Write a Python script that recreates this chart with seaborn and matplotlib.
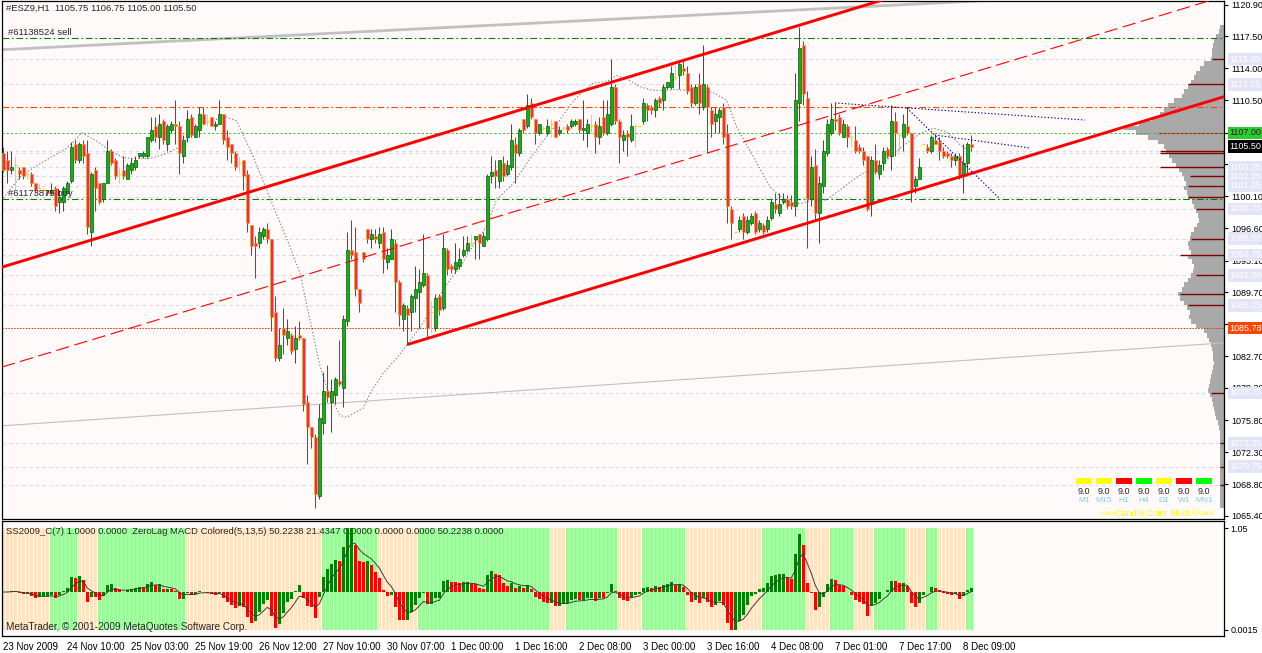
"""
ESZ9 H1 chart: candles, channel lines, order levels, volume profile
and a ZeroLag MACD / SS2009 sub-window.
"""

import matplotlib
matplotlib.use("Agg")

import matplotlib.pyplot as plt
import numpy as np
import pandas as pd
import seaborn as sns
from matplotlib.patches import Rectangle

W, H = 1262, 653

# ---- price data, one value per H1 bar (243 bars) ----
opens = [
    1104.75, 1104.0, 1103.0, 1103.5, 1103.0, 1103.25, 1102.5, 1102.5, 1101.5, 1101.0,
    1100.75, 1100.75, 1100.5, 1101.0, 1099.5, 1099.5, 1100.5, 1101.75, 1105.75, 1104.0,
    1105.75, 1104.75, 1096.25, 1103.0, 1101.5, 1099.75, 1101.5, 1105.0, 1104.0, 1102.5,
    1103.0, 1102.0, 1103.0, 1103.25, 1104.5, 1104.5, 1104.5, 1106.25, 1107.75, 1106.5,
    1108.25, 1105.75, 1107.25, 1108.0, 1107.75, 1104.5, 1106.5, 1108.75, 1106.5, 1107.25,
    1109.0, 1108.25, 1108.75, 1107.75, 1108.0, 1109.0, 1106.5, 1105.75, 1104.75, 1103.75,
    1104.0, 1102.5, 1097.0, 1095.0, 1095.0, 1095.75, 1096.5, 1095.5, 1087.5, 1082.5,
    1085.75, 1084.75, 1085.0, 1083.5, 1085.0, 1084.75, 1077.75, 1075.0, 1074.0, 1067.5,
    1075.5, 1079.0, 1077.75, 1078.5, 1080.0, 1079.25, 1086.5, 1094.25, 1094.0, 1090.0,
    1094.0, 1096.5, 1095.5, 1095.75, 1095.0, 1096.25, 1093.0, 1093.25, 1095.0, 1090.75,
    1086.75, 1088.0, 1087.5, 1089.0, 1089.75, 1090.5, 1091.5, 1087.5, 1085.75, 1089.25,
    1088.0, 1094.25, 1092.5, 1092.25, 1092.5, 1093.75, 1094.25, 1095.0, 1095.5, 1096.0,
    1094.75, 1095.5, 1102.25, 1103.0, 1101.75, 1103.75, 1102.5, 1103.25, 1105.75, 1104.75,
    1108.5, 1107.75, 1110.25, 1108.5, 1107.0, 1107.5, 1107.0, 1108.0, 1108.25, 1107.0,
    1107.5, 1107.75, 1107.75, 1108.0, 1108.5, 1107.25, 1107.0, 1107.75, 1108.0, 1106.5,
    1108.75, 1107.0, 1108.0, 1112.0, 1108.25, 1106.25, 1107.0, 1106.25, 1107.75, 1107.75,
    1108.25, 1110.0, 1109.75, 1109.5, 1110.75, 1110.5, 1112.0, 1112.0, 1113.0, 1113.25,
    1114.0, 1113.5, 1112.0, 1110.25, 1112.25, 1109.75, 1112.0, 1109.5, 1108.25, 1108.75,
    1109.75, 1107.0, 1098.75, 1096.25, 1096.5, 1098.0, 1096.25, 1097.25, 1098.25, 1096.5,
    1097.0, 1096.5, 1097.75, 1099.25, 1098.25, 1099.5, 1099.75, 1099.5, 1099.0, 1110.25,
    1116.5, 1110.75, 1099.75, 1103.5, 1098.25, 1101.25, 1104.75, 1107.0, 1108.5, 1108.75,
    1106.5, 1107.75, 1106.5, 1106.25, 1105.5, 1105.0, 1104.5, 1099.25, 1104.0, 1102.5,
    1103.75, 1105.25, 1104.5, 1108.25, 1106.75, 1106.5, 1107.75, 1107.0, 1101.25, 1102.0,
    1105.75, 1105.5, 1105.0, 1106.25, 1106.0, 1105.0, 1104.75, 1104.5, 1104.0, 1104.5,
    1102.25, 1103.75, 1105.75,
]
highs = [
    1105.5, 1105.0, 1105.0, 1104.5, 1103.25, 1103.25, 1102.75, 1102.75, 1101.5, 1101.5,
    1101.0, 1100.75, 1101.5, 1101.25, 1100.75, 1101.25, 1101.75, 1106.0, 1106.25, 1106.0,
    1106.25, 1106.25, 1102.75, 1103.25, 1101.5, 1101.5, 1106.25, 1105.25, 1104.25, 1103.25,
    1104.5, 1103.75, 1104.25, 1104.5, 1104.75, 1105.0, 1106.5, 1108.75, 1108.75, 1109.0,
    1108.5, 1108.0, 1108.25, 1110.5, 1108.25, 1106.75, 1109.5, 1109.0, 1108.0, 1109.75,
    1109.75, 1109.0, 1108.75, 1108.25, 1110.5, 1109.0, 1107.25, 1105.75, 1105.0, 1104.5,
    1104.0, 1103.0, 1097.0, 1095.75, 1096.75, 1096.75, 1097.25, 1095.5, 1089.25, 1085.75,
    1088.0, 1086.75, 1085.25, 1086.0, 1086.5, 1084.75, 1078.5, 1075.0, 1074.25, 1077.5,
    1081.0, 1081.75, 1080.25, 1080.5, 1084.5, 1087.25, 1096.25, 1097.5, 1096.75, 1090.0,
    1094.0, 1096.5, 1096.5, 1096.5, 1096.75, 1096.75, 1094.5, 1096.5, 1095.5, 1091.0,
    1088.5, 1088.25, 1089.5, 1092.5, 1092.25, 1096.0, 1091.75, 1088.75, 1089.5, 1089.5,
    1096.0, 1094.5, 1092.75, 1095.0, 1094.5, 1095.75, 1095.75, 1096.0, 1095.75, 1096.0,
    1096.25, 1102.5, 1104.5, 1104.0, 1104.0, 1104.5, 1104.0, 1108.0, 1106.5, 1107.5,
    1108.5, 1111.25, 1110.75, 1108.5, 1108.0, 1107.75, 1108.5, 1108.5, 1108.25, 1107.75,
    1107.75, 1108.0, 1108.5, 1108.5, 1108.5, 1110.5, 1108.5, 1109.0, 1108.25, 1108.75,
    1110.5, 1110.5, 1115.0, 1112.25, 1108.5, 1107.25, 1107.25, 1109.0, 1108.0, 1107.75,
    1110.75, 1110.25, 1110.0, 1110.75, 1111.0, 1112.25, 1112.5, 1114.25, 1114.25, 1114.75,
    1114.75, 1114.25, 1112.25, 1112.25, 1113.5, 1116.5, 1112.25, 1109.75, 1109.75, 1109.75,
    1110.25, 1108.0, 1099.0, 1096.25, 1098.0, 1098.25, 1098.0, 1098.25, 1098.5, 1097.5,
    1097.25, 1098.0, 1099.75, 1100.5, 1100.5, 1100.5, 1100.25, 1100.25, 1113.5, 1118.5,
    1117.0, 1111.5, 1104.5, 1105.25, 1102.25, 1106.25, 1108.5, 1110.25, 1110.25, 1109.0,
    1108.5, 1108.0, 1106.75, 1107.75, 1105.75, 1105.5, 1104.5, 1104.5, 1105.75, 1104.0,
    1105.5, 1105.5, 1110.0, 1109.25, 1107.0, 1109.0, 1109.75, 1107.0, 1102.25, 1104.25,
    1105.75, 1105.75, 1106.75, 1106.75, 1106.5, 1105.5, 1105.0, 1104.75, 1104.75, 1104.75,
    1105.75, 1106.0, 1106.75,
]
lows = [
    1102.75, 1101.5, 1102.5, 1100.75, 1102.0, 1102.0, 1102.0, 1101.25, 1100.5, 1100.75,
    1100.5, 1100.25, 1100.25, 1098.5, 1098.25, 1098.5, 1100.5, 1101.5, 1103.75, 1103.75,
    1103.75, 1096.0, 1094.75, 1098.5, 1099.25, 1099.5, 1101.5, 1103.5, 1102.0, 1101.5,
    1102.0, 1102.0, 1102.5, 1103.0, 1104.25, 1104.25, 1104.25, 1106.0, 1106.0, 1105.25,
    1105.75, 1105.0, 1107.0, 1105.75, 1102.5, 1103.75, 1106.0, 1106.5, 1106.5, 1106.5,
    1108.0, 1107.75, 1107.75, 1107.25, 1108.0, 1105.75, 1104.0, 1103.75, 1103.0, 1102.75,
    1100.75, 1096.25, 1093.75, 1091.25, 1094.5, 1095.5, 1095.0, 1085.5, 1082.25, 1082.25,
    1083.0, 1084.0, 1083.0, 1082.0, 1084.5, 1076.75, 1071.0, 1072.75, 1066.25, 1067.25,
    1074.25, 1077.75, 1074.5, 1077.5, 1079.5, 1077.25, 1086.0, 1093.25, 1089.25, 1087.5,
    1093.0, 1095.0, 1094.5, 1095.0, 1094.5, 1091.75, 1092.25, 1093.25, 1087.5, 1086.0,
    1085.5, 1084.0, 1085.5, 1087.5, 1085.75, 1090.25, 1084.75, 1085.25, 1085.5, 1087.25,
    1087.75, 1091.5, 1091.75, 1091.75, 1092.25, 1093.5, 1094.0, 1094.75, 1093.25, 1093.25,
    1094.75, 1095.25, 1101.5, 1101.0, 1101.0, 1101.75, 1102.25, 1103.0, 1101.5, 1104.5,
    1107.0, 1107.5, 1108.5, 1105.75, 1106.75, 1107.25, 1106.75, 1106.5, 1106.5, 1106.75,
    1107.25, 1107.0, 1107.5, 1107.75, 1107.0, 1106.25, 1105.5, 1107.0, 1104.75, 1105.75,
    1106.75, 1106.75, 1107.75, 1108.0, 1103.75, 1105.0, 1104.5, 1106.0, 1105.5, 1107.75,
    1108.0, 1108.25, 1109.0, 1108.75, 1109.75, 1109.5, 1111.75, 1111.75, 1112.75, 1111.75,
    1113.25, 1111.25, 1109.75, 1110.0, 1109.0, 1109.5, 1104.75, 1106.5, 1107.0, 1107.0,
    1105.75, 1097.25, 1095.5, 1096.25, 1096.25, 1095.5, 1096.0, 1097.0, 1096.0, 1096.25,
    1096.0, 1096.25, 1097.5, 1098.25, 1098.0, 1099.25, 1098.75, 1098.75, 1098.0, 1108.25,
    1110.0, 1094.5, 1099.0, 1097.5, 1095.0, 1100.5, 1104.5, 1106.75, 1107.25, 1106.75,
    1106.5, 1105.5, 1105.5, 1104.75, 1104.75, 1103.5, 1098.5, 1098.0, 1102.5, 1102.0,
    1103.0, 1104.25, 1103.0, 1104.5, 1104.75, 1105.0, 1106.75, 1099.5, 1100.5, 1102.0,
    1105.75, 1104.75, 1104.75, 1105.75, 1104.0, 1104.25, 1104.25, 1103.25, 1103.5, 1102.0,
    1100.5, 1102.25, 1105.0,
]
closes = [
    1103.0, 1103.0, 1103.25, 1103.5, 1102.5, 1102.25, 1102.5, 1101.5, 1100.75, 1101.0,
    1100.75, 1100.5, 1100.75, 1099.0, 1100.0, 1101.0, 1101.5, 1105.5, 1104.0, 1105.75,
    1104.5, 1096.75, 1102.5, 1101.0, 1099.5, 1101.5, 1105.0, 1103.75, 1102.25, 1102.5,
    1102.25, 1103.5, 1103.75, 1104.0, 1104.75, 1104.75, 1106.5, 1107.25, 1106.5, 1108.0,
    1106.25, 1107.75, 1108.0, 1107.75, 1104.75, 1106.25, 1108.5, 1106.75, 1107.75, 1109.0,
    1108.0, 1108.25, 1107.75, 1108.0, 1109.0, 1106.25, 1105.5, 1104.75, 1103.25, 1103.75,
    1102.25, 1097.25, 1094.75, 1094.75, 1096.25, 1096.5, 1095.5, 1087.0, 1082.5, 1084.0,
    1085.0, 1085.5, 1083.25, 1084.75, 1084.75, 1077.5, 1075.0, 1074.0, 1067.75, 1076.0,
    1079.0, 1078.25, 1079.0, 1080.25, 1079.75, 1086.75, 1094.25, 1093.75, 1090.0, 1088.5,
    1093.25, 1095.5, 1096.0, 1095.5, 1096.0, 1093.25, 1093.75, 1095.5, 1090.75, 1087.25,
    1088.25, 1087.25, 1089.25, 1090.0, 1090.75, 1091.75, 1085.75, 1087.5, 1089.0, 1087.75,
    1094.5, 1092.25, 1092.25, 1093.0, 1093.25, 1094.25, 1095.0, 1095.0, 1095.75, 1095.0,
    1095.75, 1102.25, 1102.75, 1102.25, 1104.0, 1102.25, 1103.5, 1106.25, 1104.75, 1107.25,
    1107.25, 1110.0, 1108.75, 1107.0, 1108.0, 1107.5, 1107.75, 1108.0, 1106.5, 1107.25,
    1107.5, 1107.25, 1108.25, 1108.25, 1107.25, 1107.5, 1108.0, 1107.75, 1106.5, 1107.75,
    1107.0, 1109.0, 1112.0, 1108.25, 1106.5, 1106.75, 1106.5, 1107.75, 1107.75, 1107.75,
    1110.25, 1109.5, 1109.5, 1110.5, 1110.25, 1112.0, 1112.5, 1113.5, 1113.0, 1114.5,
    1113.75, 1111.5, 1110.25, 1112.0, 1110.25, 1112.25, 1109.75, 1108.0, 1109.0, 1109.5,
    1106.5, 1099.0, 1097.25, 1096.25, 1097.5, 1096.25, 1097.5, 1098.0, 1096.25, 1097.25,
    1096.25, 1097.5, 1099.5, 1098.75, 1099.25, 1099.75, 1099.0, 1099.0, 1110.5, 1116.25,
    1111.25, 1099.75, 1103.25, 1098.25, 1101.5, 1105.0, 1108.0, 1108.5, 1108.25, 1107.0,
    1108.0, 1106.5, 1106.5, 1105.0, 1105.0, 1104.0, 1098.75, 1104.0, 1102.75, 1103.5,
    1105.0, 1104.5, 1108.25, 1107.0, 1106.75, 1108.0, 1107.0, 1100.75, 1102.0, 1103.25,
    1105.75, 1105.0, 1106.5, 1105.75, 1105.0, 1104.5, 1104.5, 1104.0, 1104.5, 1102.25,
    1103.75, 1105.75, 1105.5,
]

date_tick_bars = [0, 16, 32, 48, 64, 80, 96, 112, 128, 144, 160, 176, 192, 208, 224, 240]
date_tick_labels = [
    "23 Nov 2009", "24 Nov 10:00", "25 Nov 03:00", "25 Nov 19:00", "26 Nov 12:00",
    "27 Nov 10:00", "30 Nov 07:00", "1 Dec 00:00", "1 Dec 16:00", "2 Dec 08:00",
    "3 Dec 00:00", "3 Dec 16:00", "4 Dec 08:00", "7 Dec 01:00", "7 Dec 17:00",
    "8 Dec 09:00",
]
price_ticks = [1120.9, 1117.5, 1114.0, 1110.5, 1107.0, 1103.6, 1100.1, 1096.6, 1093.1,
               1089.7, 1086.2, 1082.7, 1079.3, 1075.8, 1072.3, 1068.8, 1065.4]
# these two tick labels sit under the coloured price boxes
covered_ticks = [1107.0, 1086.2]

# slow dotted curve drawn over the candles (bar, price)
curve_bars = [0, 4.2, 7.5, 11.7, 15.8, 17.5, 19.6, 23.3, 26.7, 30, 32.5, 36.7, 40.8,
              44.2, 46.7, 50, 53.3, 55.8, 58.3, 62.5, 67.5, 71.7, 74.2, 76.7, 79.2,
              81.7, 84.2, 85.8, 88.3, 90, 91.7, 95, 98.3, 100.8, 104.2, 107.5, 110.8,
              114.2, 117.5, 120.8, 123.3, 127.5, 131.7, 135.8, 139.2, 141.7, 144.2,
              147.5, 150.8, 153.3, 155.8, 159.2, 162.5, 165.8, 167.5, 170.8, 174.2,
              177.5, 180.8, 183.3, 187.5, 191.7, 195.8, 199.2, 202.5, 205.8, 209.2,
              212.5, 215.8, 219.2, 222.5, 225.8, 229.2, 232.5, 235.8, 239.2, 241.7]
curve_prices = [1099.9, 1102.2, 1103.2, 1104.3, 1105.3, 1106.0, 1107.0, 1106.1, 1105.05,
                1104.3, 1104.2, 1104.2, 1104.75, 1105.5, 1106.6, 1107.8, 1108.45, 1108.7,
                1108.3, 1104.4, 1099.0, 1094.6, 1091.7, 1086.6, 1081.6, 1078.3, 1076.3,
                1076.1, 1076.7, 1077.1, 1078.7, 1080.9, 1082.5, 1083.9, 1085.9, 1088.1,
                1090.5, 1092.45, 1094.8, 1096.8, 1099.7, 1101.5, 1104.2, 1106.6, 1108.4,
                1110.0, 1111.2, 1112.4, 1112.55, 1113.2, 1112.9, 1112.0, 1111.6, 1111.6,
                1111.7, 1111.6, 1111.6, 1111.35, 1110.55, 1107.66, 1104.4, 1101.1, 1099.5,
                1099.3, 1099.7, 1099.7, 1100.8, 1101.9, 1102.8, 1103.3, 1104.76, 1105.85,
                1106.9, 1107.5, 1107.1, 1105.7, 1104.9]

# trend lines: anchor bar, anchor price, slope (price per bar)
channel_slope = 0.1318
upper_anchor = (0, 1092.45)
middle_anchor = (0, 1081.6)
lower_anchor = (101, 1084.0)
gray_top_anchor = (1.7, 1116.06)
gray_top_slope = 0.0217
gray_low_anchor = (0, 1075.18)
gray_low_slope = 0.0295

# short navy dotted lines: (bar0, price0, bar1, price1)
navy_lines = [
    (207.9, 1110.23, 270.4, 1108.38),
    (232.9, 1106.75, 256.7, 1105.34),
    (225.9, 1109.68, 249.2, 1099.80),
]

sell_level, sell_text = 1117.25, "#61138524 sell"
buy_level, buy_text = 1099.75, "#61173875 buy"
stop_level = 1109.75
ask_level = 1107.0
bid_level = 1105.5
marker_level = 1085.78

# volume profile (0.5 point rows from 1118.5 downwards)
profile_top = 1118.5
profile_volume = [
    4, 5, 8, 10, 11, 12, 12, 13, 20, 24, 28, 30, 33, 36, 40, 42, 50, 56, 60, 64,
    72, 85, 100, 88, 76, 66, 60, 58, 55, 52, 48, 45, 42, 40, 38, 40, 37, 36, 32, 30,
    28, 26, 25, 27, 30, 33, 34, 36, 35, 33, 36, 32, 30, 31, 33, 36, 40, 42, 46, 44,
    40, 37, 34, 35, 33, 28, 20, 17, 15, 13, 12, 11, 11, 10, 11, 12, 13, 14, 15, 16,
    14, 12, 11, 10, 9, 8, 6, 5, 4, 4, 4, 4, 4, 4, 4, 4, 4, 4, 4, 4,
    4, 4, 4, 4, 4,
]
level_prices = [1115.0, 1112.25, 1105.0, 1104.75, 1103.25, 1102.25, 1101.25, 1100.0,
                1098.75, 1095.5, 1093.75, 1091.5, 1089.5, 1088.25, 1078.75, 1073.25,
                1070.75, 1068.75]
level_volume = [12, 36, 64, 64, 64, 34, 36, 36, 28, 33, 44, 28, 44, 36, 13, 4, 4, 4]
level_labels = [1115.0, 1112.25, 1103.25, 1102.25, 1101.25, 1098.75, 1095.5, 1093.75,
                1091.5, 1088.25, 1078.75, 1073.25, 1070.75]

# SS2009 background state, as runs of bars
stripe_runs = [
    ("peach", 12), ("green", 7), ("peach", 5), ("green", 22), ("peach", 8),
    ("peach", 26), ("green", 14), ("peach", 10), ("green", 33), ("peach", 4),
    ("green", 13), ("peach", 6), ("green", 11), ("peach", 19), ("green", 11),
    ("peach", 6), ("green", 6), ("peach", 5), ("green", 8), ("peach", 5),
    ("green", 3), ("peach", 7), ("green", 2),
]

tf_names = ["M1", "M15", "H1", "H4", "D1", "W1", "MN1"]
tf_colors = ["#FFFF00", "#FFFF00", "#FF0000", "#00FF00", "#FFFF00", "#FF0000", "#00FF00"]
tf_values = [9.0, 9.0, 9.0, 9.0, 9.0, 9.0, 9.0]

BG = "#FFFAFA"
FS = 6.5


def px_box(left, top, right, bottom):
    return [left / W, 1 - bottom / H, (right - left) / W, (bottom - top) / H]


def zero_lag_ema(s, n):
    e1 = s.ewm(span=n, adjust=False).mean()
    e2 = e1.ewm(span=n, adjust=False).mean()
    return 2 * e1 - e2


def draw_candles(ax, df):
    up = df[df.close > df.open]
    dn = df[df.close < df.open]
    dj = df[df.close == df.open]
    ax.vlines(up.bar, up.low, up.high, color="#008000", lw=0.75, zorder=3)
    ax.vlines(dn.bar, dn.low, dn.high, color="#DC143C", lw=0.75, zorder=3)
    ax.vlines(dj.bar, dj.low, dj.high, color="#FFD700", lw=0.75, zorder=3)
    ax.bar(up.bar, up.close - up.open, bottom=up.open, width=0.62,
           color="#1FA81F", edgecolor="#006400", linewidth=0.5, zorder=3.1)
    ax.bar(dn.bar, dn.open - dn.close, bottom=dn.close, width=0.62,
           color="#EE2C4A", edgecolor="#F5A623", linewidth=0.5, zorder=3.1)
    ax.hlines(dj.open, dj.bar - 0.45, dj.bar + 0.45, color="#FFD700", lw=0.9, zorder=3.1)


def right_label(ax, value, text, face, color):
    ax.annotate(text, xy=(1, value), xycoords=ax.get_yaxis_transform(),
                xytext=(3.8, 0), textcoords="offset points", va="center", ha="left",
                fontsize=FS, color=color, annotation_clip=False, zorder=6,
                bbox=dict(boxstyle="square,pad=0.18", fc=face, ec="none"))


def main():
    sns.set_theme(style="white")
    plt.rcParams["font.family"] = ["Liberation Sans", "DejaVu Sans"]

    df = pd.DataFrame({"open": opens, "high": highs, "low": lows, "close": closes})
    df["bar"] = np.arange(len(df))
    xlim = (-0.33, 305.17)
    ylim = (1065.05, 1121.36)

    fig = plt.figure(figsize=(W / 100, H / 100), dpi=100, facecolor="white")
    ax = fig.add_axes(px_box(2, 0.5, 1224, 519))
    ax_ind = fig.add_axes(px_box(2, 521, 1224, 635.5))

    # ---------------- main window ----------------
    ax.set_facecolor(BG)
    ax.set_xlim(*xlim)
    ax.set_ylim(*ylim)

    ax.hlines(level_prices, xlim[0], xlim[1], colors="#D8D8F2", lw=0.8,
              linestyles=(0, (3, 3)), zorder=1)

    ax.axline(gray_top_anchor, slope=gray_top_slope, color="#C0C0C0", lw=2.0, zorder=2)
    ax.axline(gray_low_anchor, slope=gray_low_slope, color="#C0C0C0", lw=0.8, zorder=2)

    ax.axhline(sell_level, color="#008000", lw=0.8, dashes=(6, 2.5, 1.5, 2.5), zorder=2)
    ax.axhline(buy_level, color="#008000", lw=0.8, dashes=(6, 2.5, 1.5, 2.5), zorder=2)
    ax.axhline(stop_level, color="#FF4500", lw=0.8, dashes=(6, 2.5, 1.5, 2.5), zorder=2)
    ax.axhline(ask_level, color="#3CB83C", lw=0.7, dashes=(2.2, 2.2), zorder=2)
    ax.axhline(marker_level, color="#E03000", lw=0.7, dashes=(1.5, 1.5), zorder=2)

    sns.lineplot(x=curve_bars, y=curve_prices, ax=ax, color="#808080", lw=0.8,
                 linestyle=(0, (1.2, 1.8)), zorder=2.5)

    draw_candles(ax, df)

    ax.axline(upper_anchor, slope=channel_slope, color="#FF0000", lw=2.1, zorder=4)
    ax.axline(middle_anchor, slope=channel_slope, color="#FF0000", lw=0.8,
              dashes=(12, 5), zorder=4)
    x1 = xlim[1] + 1
    ax.plot([lower_anchor[0], x1],
            [lower_anchor[1], lower_anchor[1] + (x1 - lower_anchor[0]) * channel_slope],
            color="#FF0000", lw=2.1, zorder=4, solid_capstyle="butt")
    for b0, p0, b1, p1 in navy_lines:
        ax.plot([b0, b1], [p0, p1], color="#000080", lw=0.8, dashes=(1.2, 1.8), zorder=4)

    ax.text(1.2, sell_level + 0.2, sell_text, fontsize=FS + 0.3, va="bottom",
            ha="left", zorder=5)
    ax.text(1.2, buy_level + 0.2, buy_text, fontsize=FS + 0.3, va="bottom",
            ha="left", zorder=5)

    # volume profile at the right edge
    prof = ax.inset_axes([1 - 112 / 1222, 0, 112 / 1222, 1], zorder=1.6)
    prof_prices = profile_top - 0.5 * np.arange(len(profile_volume))
    prof.barh(prof_prices, profile_volume, height=0.5, color="#A9A9A9", linewidth=0)
    prof.hlines(level_prices, 0, level_volume, colors="#800000", lw=1.0)
    prof.hlines(ask_level, 0, 66, colors="#E00000", lw=0.8)
    prof.set_xlim(112, 0)
    prof.set_ylim(*ylim)
    prof.axis("off")

    ax.yaxis.tick_right()
    tick_text = ["" if v in covered_ticks else f"{v:.2f}" for v in price_ticks]
    ax.set_yticks(price_ticks, labels=tick_text)
    ax.set_xticks([])
    ax.tick_params(axis="y", which="both", direction="out", length=3, width=0.8,
                   pad=2, labelsize=FS, colors="black")
    for s in ax.spines.values():
        s.set_color("black")
        s.set_linewidth(0.9)

    for lvl in level_labels:
        right_label(ax, lvl, f"{lvl:.2f}", "#E4E4F8", "white")
    right_label(ax, ask_level, f"{ask_level:.2f}", "#2ECC2E", "#202020")
    right_label(ax, bid_level, f"{bid_level:.2f}", "black", "white")
    right_label(ax, marker_level, f"{marker_level:.2f}", "#FF4500", "white")

    # ---------------- indicator window ----------------
    close_s = pd.Series(closes)
    macd = zero_lag_ema(close_s, 5) - zero_lag_ema(close_s, 13)
    signal = macd.ewm(span=5, adjust=False).mean()
    macd_colors = np.where(macd.diff().fillna(0) >= 0, "#008000", "#FF0000")

    stripe_colors = []
    for name, n in stripe_runs:
        stripe_colors += [{"peach": "#FFE4C4", "green": "#98FB98"}[name]] * n

    ax_ind.set_facecolor(BG)
    ax_ind.bar(df.bar, 1.0, width=0.75, color=stripe_colors, linewidth=0, zorder=1)
    ax_ind.set_xlim(*xlim)
    ax_ind.set_ylim(-0.057, 1.069)

    ax_macd = ax_ind.twinx()
    ax_macd.bar(df.bar, macd, width=0.75, color=macd_colors, linewidth=0, zorder=2)
    sns.lineplot(x=df.bar, y=signal, ax=ax_macd, color="#3A3A3A", lw=0.7, zorder=3)
    top = macd.max()
    rng = top / 0.559
    ax_macd.set_ylim(-0.380 * rng, -0.380 * rng + rng)
    ax_macd.set_yticks([])
    ax_macd.set_ylabel("")
    ax_macd.set_xlim(*xlim)
    for s in ax_macd.spines.values():
        s.set_visible(False)

    ax_ind.yaxis.tick_right()
    ax_ind.set_yticks([0, 1], labels=["0.0015", "1.05"])
    ax_ind.set_xticks(date_tick_bars, labels=date_tick_labels)
    for lbl in ax_ind.get_xticklabels():
        lbl.set_horizontalalignment("left")
        lbl.set_fontsize(7.0)
    ax_ind.tick_params(axis="both", direction="out", length=3, width=0.8, pad=1.5,
                       labelsize=FS, colors="black")
    for lbl in ax_ind.get_xticklabels():
        lbl.set_fontsize(7.0)
    for s in ax_ind.spines.values():
        s.set_color("black")
        s.set_linewidth(0.9)

    ax_ind.text(0.003, 0.91, "SS2009_C(7) 1.0000 0.0000  ZeroLag MACD Colored(5,13,5) "
                "50.2238 21.4347 0.0000 0.0000 0.0000 50.2238 0.0000",
                transform=ax_ind.transAxes, fontsize=6.8, va="center", zorder=5)
    ax_ind.text(0.003, 0.07, "MetaTrader, \u00a9 2001-2009 MetaQuotes Software Corp.",
                transform=ax_ind.transAxes, fontsize=7.2, va="center", zorder=5)

    # ---------------- header and timeframe panel ----------------
    fig.text(6 / W, 1 - 8 / H, "#ESZ9,H1  1105.75 1106.75 1105.00 1105.50",
             fontsize=6.8, va="center", ha="left")
    for k, (name, col, val) in enumerate(zip(tf_names, tf_colors, tf_values)):
        x0 = 1076 + 20 * k
        fig.add_artist(Rectangle((x0 / W, 1 - 484 / H), 16 / W, 6 / H,
                                 transform=fig.transFigure, color=col, lw=0))
        fig.text((x0 + 8) / W, 1 - 492 / H, f"{val:.1f}", fontsize=FS,
                 ha="center", va="center")
        fig.text((x0 + 8) / W, 1 - 501 / H, name, fontsize=FS - 0.5,
                 ha="center", va="center", color="#87CEEB")
    fig.text(1100 / W, 1 - 513 / H, "\u00bb\u00bb\u00bbCandle Color Multi \u00a9\u00ab\u00ab\u00ab",
             fontsize=FS, ha="left", va="center", color="#FFFF00")

    fig.savefig("out.png", dpi=100, facecolor="white")
    plt.close(fig)


if __name__ == "__main__":
    main()
